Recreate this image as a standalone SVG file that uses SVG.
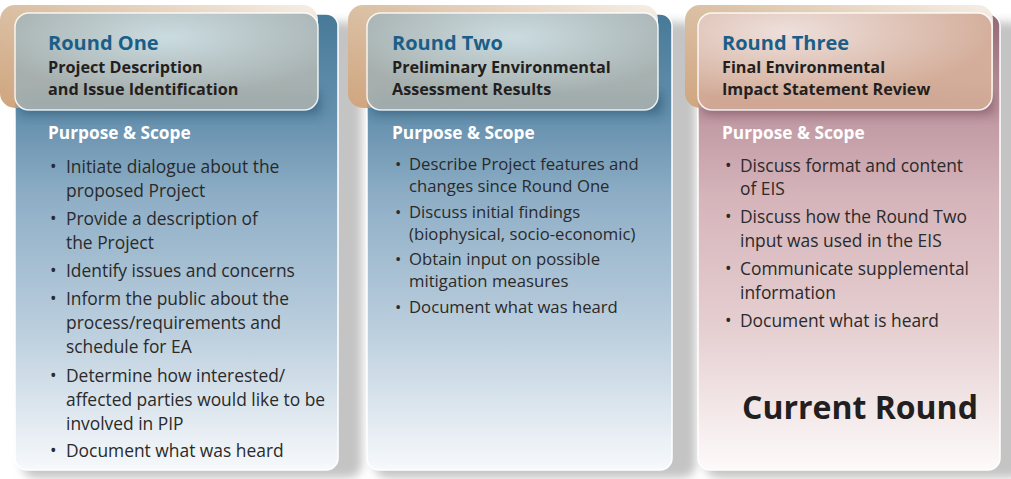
<svg xmlns="http://www.w3.org/2000/svg" width="1011" height="479" viewBox="0 0 1011 479">
<defs>
<style>
.title{font-family:"Open Sans","Liberation Sans",sans-serif;font-weight:700;font-size:20px;fill:#1b5e87}
.sub{font-family:"Open Sans","Liberation Sans",sans-serif;font-weight:700;font-size:16.2px;fill:#231f20}
.ps{font-family:"Open Sans","Liberation Sans",sans-serif;font-weight:700;font-size:17.3px;fill:#ffffff}
.b{font-family:"Open Sans","Liberation Sans",sans-serif;font-size:17.4px;fill:#2a2a2a}
.b2{font-family:"Open Sans","Liberation Sans",sans-serif;font-size:16.7px;fill:#2a2a2a}
.cur{font-family:"Open Sans","Liberation Sans",sans-serif;font-weight:700;font-size:32px;fill:#231f20}
.body{stroke:#ffffff;stroke-width:1.5}
.glass{stroke:#ffffff;stroke-opacity:0.85;stroke-width:1.5}
</style>
<linearGradient id="gBlue" x1="0" y1="0" x2="0" y2="1">
<stop offset="0" stop-color="#477a98"/>
<stop offset="0.24" stop-color="#6892af"/>
<stop offset="0.4" stop-color="#8eaec6"/>
<stop offset="0.7" stop-color="#bccfde"/>
<stop offset="1" stop-color="#f7f9fb"/>
</linearGradient>
<linearGradient id="gPink" x1="0" y1="0" x2="0" y2="1">
<stop offset="0" stop-color="#946a78"/>
<stop offset="0.24" stop-color="#c29ba5"/>
<stop offset="0.4" stop-color="#d5b4ba"/>
<stop offset="0.7" stop-color="#e6d0d2"/>
<stop offset="1" stop-color="#fdfafa"/>
</linearGradient>
<linearGradient id="gTan" x1="0" y1="1" x2="1" y2="0">
<stop offset="0" stop-color="#cfa57e"/>
<stop offset="0.55" stop-color="#dcc3a8"/>
<stop offset="1" stop-color="#f6efe6"/>
</linearGradient>
<radialGradient id="gGlassB" cx="0.5" cy="0.25" r="0.6">
<stop offset="0" stop-color="#c9dde4"/>
<stop offset="1" stop-color="#a3afb0"/>
</radialGradient>
<radialGradient id="gGlassP" cx="0.3" cy="0.2" r="0.7">
<stop offset="0" stop-color="#efe2e0"/>
<stop offset="1" stop-color="#d3ab98"/>
</radialGradient>
<filter id="sh" x="-20%" y="-20%" width="140%" height="140%">
<feGaussianBlur stdDeviation="5"/>
</filter>
<filter id="hs" x="-20%" y="-50%" width="140%" height="200%">
<feGaussianBlur stdDeviation="6"/>
</filter>
<clipPath id="c1"><rect x="15" y="14" width="323" height="456" rx="12"/></clipPath>
<clipPath id="c2"><rect x="367" y="14" width="305" height="456" rx="12"/></clipPath>
<clipPath id="c3"><rect x="698" y="14" width="302" height="456" rx="12"/></clipPath>
</defs>
<rect width="1011" height="479" fill="#ffffff"/>

<g id="round-one">
<rect x="22" y="22" width="340" height="456" rx="14" fill="#c4c4c4" filter="url(#sh)"/>
<rect class="body" x="15" y="14" width="323" height="456" rx="12" fill="url(#gBlue)"/>
<rect x="0" y="5" width="318" height="103" rx="15" fill="url(#gTan)"/>
<g clip-path="url(#c1)"><rect x="20" y="92" width="300" height="22" fill="#1d4a66" opacity="0.55" filter="url(#hs)"/></g>
<rect class="glass" x="15" y="13" width="303" height="97" rx="14" fill="url(#gGlassB)" fill-opacity="0.93"/>
<text class="title" x="48" y="49.5">Round One</text>
<text class="sub" x="48" y="73">Project Description</text>
<text class="sub" x="48" y="95.3">and Issue Identification</text>
<text class="ps" x="48" y="139">Purpose &amp; Scope</text>
<g class="b">
<text x="50" y="172.5">•</text><text x="66" y="172.5">Initiate dialogue about the</text>
<text x="66" y="196.5">proposed Project</text>
<text x="50" y="225">•</text><text x="66" y="225">Provide a description of</text>
<text x="66" y="249">the Project</text>
<text x="50" y="277">•</text><text x="66" y="277">Identify issues and concerns</text>
<text x="50" y="305">•</text><text x="66" y="305">Inform the public about the</text>
<text x="66" y="329">process/requirements and</text>
<text x="66" y="353">schedule for EA</text>
<text x="50" y="381.5">•</text><text x="66" y="381.5">Determine how interested/</text>
<text x="66" y="405.5">affected parties would like to be</text>
<text x="66" y="429.5">involved in PIP</text>
<text x="50" y="457">•</text><text x="66" y="457">Document what was heard</text>
</g>
</g>

<g id="round-two">
<rect x="374" y="22" width="322" height="456" rx="14" fill="#c4c4c4" filter="url(#sh)"/>
<rect class="body" x="367" y="14" width="305" height="456" rx="12" fill="url(#gBlue)"/>
<rect x="348" y="5" width="310" height="103" rx="15" fill="url(#gTan)"/>
<g clip-path="url(#c2)"><rect x="372" y="92" width="290" height="22" fill="#1d4a66" opacity="0.55" filter="url(#hs)"/></g>
<rect class="glass" x="367" y="13" width="291" height="97" rx="14" fill="url(#gGlassB)" fill-opacity="0.93"/>
<text class="title" x="392" y="49.5">Round Two</text>
<text class="sub" x="392" y="73">Preliminary Environmental</text>
<text class="sub" x="392" y="95.3">Assessment Results</text>
<text class="ps" x="392" y="139">Purpose &amp; Scope</text>
<g class="b2">
<text x="395" y="170">•</text><text x="409" y="170">Describe Project features and</text>
<text x="409" y="191.5">changes since Round One</text>
<text x="395" y="218">•</text><text x="409" y="218">Discuss initial findings</text>
<text x="409" y="240">(biophysical, socio-economic)</text>
<text x="395" y="265">•</text><text x="409" y="265">Obtain input on possible</text>
<text x="409" y="287">mitigation measures</text>
<text x="395" y="313">•</text><text x="409" y="313">Document what was heard</text>
</g>
</g>

<g id="round-three">
<rect x="705" y="22" width="320" height="456" rx="14" fill="#c4c4c4" filter="url(#sh)"/>
<rect class="body" x="698" y="14" width="302" height="456" rx="12" fill="url(#gPink)"/>
<rect x="685" y="5" width="308" height="103" rx="15" fill="url(#gTan)"/>
<g clip-path="url(#c3)"><rect x="703" y="92" width="290" height="22" fill="#5e3444" opacity="0.5" filter="url(#hs)"/></g>
<rect class="glass" x="698" y="13" width="294" height="97" rx="14" fill="url(#gGlassP)" fill-opacity="0.93"/>
<text class="title" x="722" y="49.5">Round Three</text>
<text class="sub" x="722" y="73">Final Environmental</text>
<text class="sub" x="722" y="95.3">Impact Statement Review</text>
<text class="ps" x="722" y="139">Purpose &amp; Scope</text>
<g class="b">
<text x="725" y="171.5">•</text><text x="740" y="171.5">Discuss format and content</text>
<text x="740" y="195">of EIS</text>
<text x="725" y="223">•</text><text x="740" y="223">Discuss how the Round Two</text>
<text x="740" y="247">input was used in the EIS</text>
<text x="725" y="275">•</text><text x="740" y="275">Communicate supplemental</text>
<text x="740" y="298.5">information</text>
<text x="725" y="327">•</text><text x="740" y="327">Document what is heard</text>
</g>
<text class="cur" x="742" y="419">Current Round</text>
</g>

<g id="connectors"/>
</svg>
